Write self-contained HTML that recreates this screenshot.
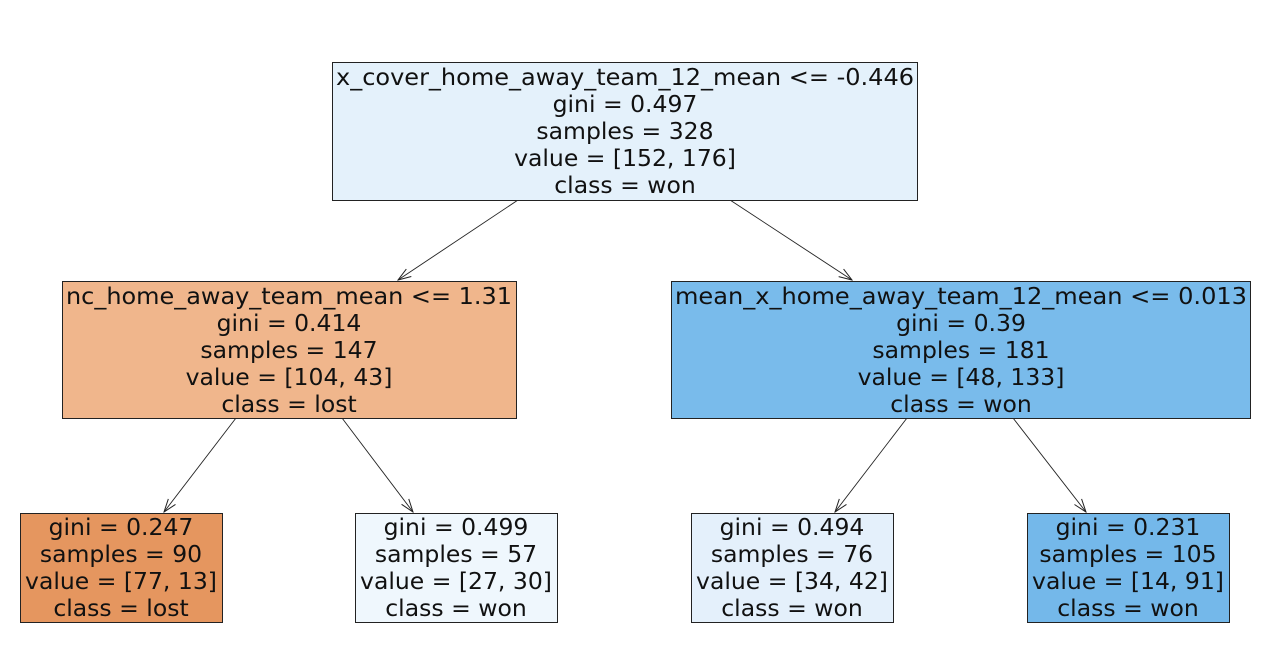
<!DOCTYPE html>
<html><head><meta charset="utf-8"><style>html,body{margin:0;padding:0;background:#fff}svg{display:block}</style></head>
<body>
<svg width="1285" height="645" viewBox="0 0 1285 645" xmlns="http://www.w3.org/2000/svg" font-family="DejaVu Sans, Liberation Sans, sans-serif" font-size="23.5" fill="#111" text-anchor="middle">
<defs><marker id="a" markerWidth="16" markerHeight="12" refX="15" refY="6" orient="auto" markerUnits="userSpaceOnUse"><path d="M2,1.5 L15,6 L2,10.5" fill="none" stroke="#222" stroke-width="1"/></marker></defs>
<g stroke="#222" stroke-width="0.9" marker-end="url(#a)">
<line x1="518" y1="200" x2="398" y2="280"/>
<line x1="730" y1="200" x2="852" y2="280"/>
<line x1="236" y1="418" x2="164" y2="512"/>
<line x1="342" y1="418" x2="413" y2="512"/>
<line x1="907" y1="418" x2="835" y2="512"/>
<line x1="1013" y1="418" x2="1086" y2="512"/>
</g>
<g stroke="#222" stroke-width="1">
<rect x="332.5" y="62.5" width="585" height="138" fill="#e4f1fb"/>
<rect x="62.5" y="281.5" width="454" height="137" fill="#f0b68c"/>
<rect x="671.5" y="281.5" width="579" height="137" fill="#79bbeb"/>
<rect x="20.5" y="513.5" width="202" height="109" fill="#e5965f"/>
<rect x="355.5" y="513.5" width="202" height="109" fill="#eff7fd"/>
<rect x="691.5" y="513.5" width="202" height="109" fill="#e4f0fb"/>
<rect x="1027.5" y="513.5" width="202" height="109" fill="#74b8ea"/>
</g>
<g>
<text x="625" y="85" textLength="578" lengthAdjust="spacingAndGlyphs">x_cover_home_away_team_12_mean &lt;= -0.446</text>
<text x="625" y="112">gini = 0.497</text>
<text x="625" y="139">samples = 328</text>
<text x="625" y="166">value = [152, 176]</text>
<text x="625" y="193">class = won</text>

<text x="289" y="304" textLength="446" lengthAdjust="spacingAndGlyphs">nc_home_away_team_mean &lt;= 1.31</text>
<text x="289" y="331">gini = 0.414</text>
<text x="289" y="358">samples = 147</text>
<text x="289" y="385">value = [104, 43]</text>
<text x="289" y="412">class = lost</text>

<text x="961" y="304" textLength="572" lengthAdjust="spacingAndGlyphs">mean_x_home_away_team_12_mean &lt;= 0.013</text>
<text x="961" y="331">gini = 0.39</text>
<text x="961" y="358">samples = 181</text>
<text x="961" y="385">value = [48, 133]</text>
<text x="961" y="412">class = won</text>

<text x="121" y="535">gini = 0.247</text>
<text x="121" y="562">samples = 90</text>
<text x="121" y="589">value = [77, 13]</text>
<text x="121" y="616">class = lost</text>

<text x="456" y="535">gini = 0.499</text>
<text x="456" y="562">samples = 57</text>
<text x="456" y="589">value = [27, 30]</text>
<text x="456" y="616">class = won</text>

<text x="792" y="535">gini = 0.494</text>
<text x="792" y="562">samples = 76</text>
<text x="792" y="589">value = [34, 42]</text>
<text x="792" y="616">class = won</text>

<text x="1128" y="535">gini = 0.231</text>
<text x="1128" y="562">samples = 105</text>
<text x="1128" y="589">value = [14, 91]</text>
<text x="1128" y="616">class = won</text>
</g>
</svg>
</body></html>
